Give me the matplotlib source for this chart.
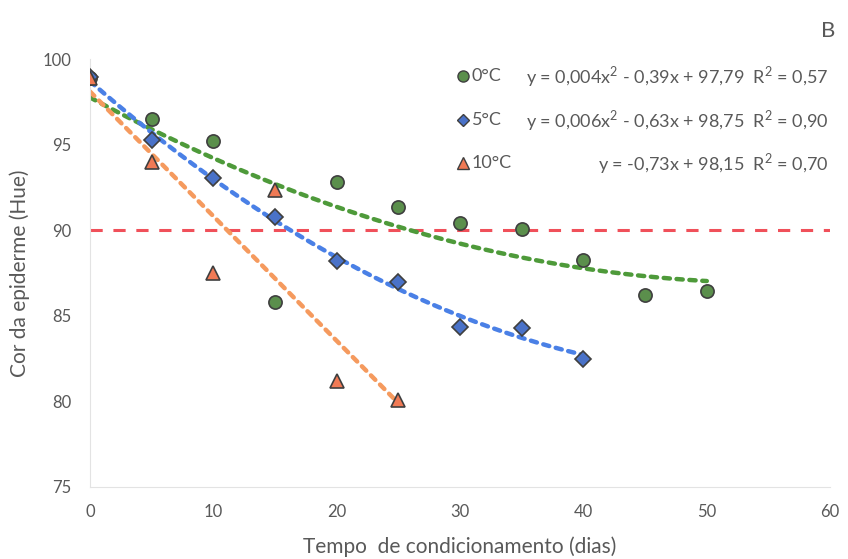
import numpy as np
import matplotlib
matplotlib.use("Agg")
import matplotlib.pyplot as plt

plt.rcParams['font.family'] = ['Lato', 'DejaVu Sans']
plt.rcParams['mathtext.fontset'] = 'custom'
plt.rcParams['mathtext.rm'] = 'Lato'

days0 = [0, 5, 10, 15, 20, 25, 30, 35, 40, 45, 50]
hue0 = [98.9, 96.5, 95.2, 85.8, 92.8, 91.35, 90.4, 90.1, 88.25, 86.2, 86.45]
days5 = [0, 5, 10, 15, 20, 25, 30, 35, 40]
hue5 = [98.95, 95.3, 93.05, 90.8, 88.2, 86.97, 84.35, 84.3, 82.5]
days10 = [0, 5, 10, 15, 20, 25]
hue10 = [98.9, 94.0, 87.5, 92.35, 81.2, 80.1]
threshold = 90.0

labels = ['0°C', '5°C', '10°C']
equations = ['y = 0,004x$^\\mathregular{2}$ - 0,39x + 97,79  R$^\\mathregular{2}$ = 0,57',
             'y = 0,006x$^\\mathregular{2}$ - 0,63x + 98,75  R$^\\mathregular{2}$ = 0,90',
             'y = -0,73x + 98,15  R$^\\mathregular{2}$ = 0,70']

text_col = '#595959'
fig = plt.figure(figsize=(8.48, 5.59), dpi=100)
ax = fig.add_axes([0.106, 0.129, 0.873, 0.765])

ax.axhline(threshold, color='#f0505a', lw=2.2, ls=(0, (4, 3.5)), zorder=1)

series = [
    (days0, hue0, 2, 'o', '#5b8f4c', '#4e9a3a', 9.5),
    (days5, hue5, 2, 'D', '#4a72c8', '#4a80e6', 8),
    (days10, hue10, 1, '^', '#f07a55', '#f59a5e', 10),
]
for x, y, deg, m, mc, lc, ms in series:
    xs = np.linspace(min(x), max(x), 200)
    c = np.polyfit(x, y, deg)
    ax.plot(xs, np.polyval(c, xs), color=lc, lw=3.2, ls=(0, (1.4, 1.5)),
            dash_capstyle='round', zorder=2)
for x, y, deg, m, mc, lc, ms in series:
    ax.plot(x, y, ls='none', marker=m, ms=ms, mfc=mc, mec='#3f3f3f',
            mew=1.2, zorder=3)

ax.set_xlim(0, 60)
ax.set_ylim(75, 100)
ax.set_xticks(range(0, 61, 10))
ax.set_yticks(range(75, 101, 5))
for k, s in ax.spines.items():
    if k in ('left', 'bottom'):
        s.set_color('#e3e3e3')
        s.set_linewidth(0.8)
    else:
        s.set_visible(False)
ax.tick_params(length=0, labelsize=12, colors=text_col)
ax.tick_params(axis='y', pad=13)
ax.tick_params(axis='x', pad=12)
ax.set_xlabel('Tempo  de condicionamento (dias)', fontsize=15, color=text_col, labelpad=12)
ax.set_ylabel('Cor da epiderme (Hue)', fontsize=15, color=text_col, labelpad=9)

# legend/equation block
rows_y = [0.960, 0.857, 0.757]
for (x, y, deg, m, mc, lc, ms), lab, eq, ry in zip(series, labels, equations, rows_y):
    ax.plot([0.504], [ry], transform=ax.transAxes, marker=m, ms=ms - 1.5,
            mfc=mc, mec='#3f3f3f', mew=1, ls='none', clip_on=False)
    ax.text(0.516, ry, lab, transform=ax.transAxes, fontsize=13,
            color=text_col, va='center', ha='left')
    ax.text(0.998, ry, eq, transform=ax.transAxes, fontsize=13,
            color=text_col, va='center', ha='right')

fig.text(0.985, 0.945, 'B', fontsize=16, color=text_col, ha='right', va='center')

fig.savefig('out.png', dpi=100)
